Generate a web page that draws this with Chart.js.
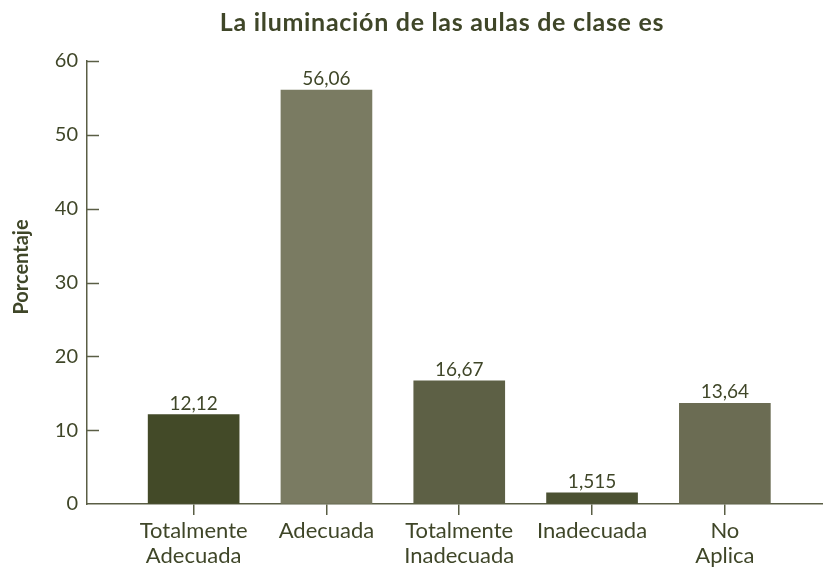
<!DOCTYPE html>
<html><head><meta charset="utf-8">
<script src="https://cdn.jsdelivr.net/npm/chart.js@4"></script>
<style>html,body{margin:0;padding:0;background:#fff}#wrap{width:823px;height:571px}</style>
</head><body><div id="wrap"><canvas id="c" width="823" height="571"></canvas></div>
<script>
const categories = [["Totalmente","Adecuada"],["Adecuada"],["Totalmente","Inadecuada"],["Inadecuada"],["No","Aplica"]];
const values = [12.12, 56.06, 16.67, 1.515, 13.64];
const valueLabels = ["12,12", "56,06", "16,67", "1,515", "13,64"];
const barColors = ["#434a28", "#7a7b62", "#5d6045", "#4b5132", "#6b6c53"];
const yTickValues = [0, 10, 20, 30, 40, 50, 60];
const chartTitle = "La iluminación de las aulas de clase es";
const yTitle = "Porcentaje";

const FONT = "Lato";
const TXT = "#3f4628";
const AXIS = "#5a5e45";

const overlay = {
  id: 'overlay',
  afterDraw(chart) {
    const ctx = chart.ctx;
    const ys = chart.scales.y;
    const area = chart.chartArea;
    ctx.save();
    // inward y ticks
    ctx.strokeStyle = AXIS; ctx.lineWidth = 1.5;
    yTickValues.forEach(v => {
      if (v === 0) return;
      const py = Math.round(ys.getPixelForValue(v)) + 0.5;
      ctx.beginPath(); ctx.moveTo(area.left, py); ctx.lineTo(area.left + 12, py); ctx.stroke();
    });
    // value labels
    ctx.fillStyle = TXT;
    ctx.font = "19px " + FONT;
    ctx.textAlign = "center"; ctx.textBaseline = "alphabetic";
    const meta = chart.getDatasetMeta(0);
    meta.data.forEach((el, i) => {
      ctx.fillText(valueLabels[i], el.x, el.y - 5);
    });
    // title
    ctx.font = "bold 25px " + FONT;
    try { ctx.letterSpacing = "0.7px"; } catch (e) {}
    ctx.textBaseline = "middle";
    ctx.fillText(chartTitle, 442, 23);
    try { ctx.letterSpacing = "0px"; } catch (e) {}
    // y title
    ctx.translate(22, 267);
    ctx.rotate(-Math.PI / 2);
    ctx.font = "bold 20px " + FONT;
    ctx.fillText(yTitle, 0, 0);
    ctx.restore();
  }
};

new Chart(document.getElementById('c'), {
  type: 'bar',
  data: {
    datasets: [{
      data: values.map((v, i) => ({ x: i, y: v })),
      backgroundColor: barColors,
      barThickness: 91,
      borderWidth: 0
    }]
  },
  options: {
    responsive: false,
    animation: false,
    devicePixelRatio: 1,
    layout: { padding: { top: 61, left: 0, right: 0, bottom: 0 } },
    plugins: { legend: { display: false }, title: { display: false }, tooltip: { enabled: false } },
    scales: {
      x: {
        type: 'linear',
        offset: false,
        min: -0.803,
        max: 4.739,
        afterBuildTicks: s => { s.ticks = [0, 1, 2, 3, 4].map(v => ({ value: v })); },
        afterFit: s => { s.height = 67; },
        grid: { offset: false, drawOnChartArea: false, drawTicks: true, tickLength: 11, color: AXIS, lineWidth: 1.5 },
        border: { display: true, color: AXIS, width: 1.5 },
        ticks: {
          callback: v => categories[v],
          font: { family: FONT, size: 22, lineHeight: 1.15 },
          color: TXT,
          padding: 3,
          autoSkip: false,
          maxRotation: 0
        }
      },
      y: {
        min: 0, max: 60,
        afterBuildTicks: s => { s.ticks = yTickValues.map(v => ({ value: v })); },
        afterFit: s => { s.width = 87; },
        grid: { drawOnChartArea: false, drawTicks: false },
        border: { display: true, color: AXIS, width: 1.5 },
        ticks: { font: { family: FONT, size: 20 }, color: TXT, padding: 9 }
      }
    }
  },
  plugins: [overlay]
});
</script>
</body></html>
